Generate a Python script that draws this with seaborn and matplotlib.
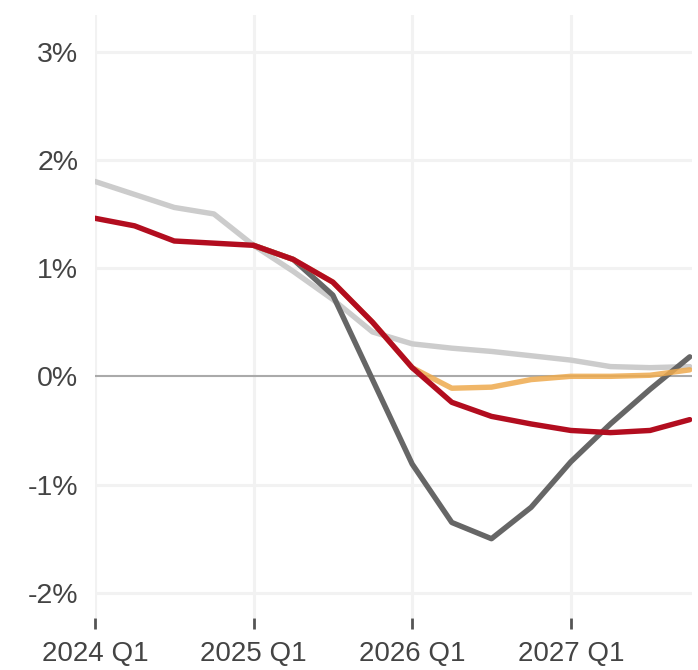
import seaborn as sns
import pandas as pd
import matplotlib.pyplot as plt
from matplotlib.ticker import FuncFormatter

# quarters 2024 Q1 .. 2027 Q4
quarters = ["2024 Q1", "2024 Q2", "2024 Q3", "2024 Q4",
            "2025 Q1", "2025 Q2", "2025 Q3", "2025 Q4",
            "2026 Q1", "2026 Q2", "2026 Q3", "2026 Q4",
            "2027 Q1", "2027 Q2", "2027 Q3", "2027 Q4"]

light_grey = [1.80, 1.68, 1.56, 1.50, 1.21, 0.97, 0.71, 0.41,
              0.30, 0.26, 0.23, 0.19, 0.15, 0.09, 0.08, 0.09]
dark_grey = [None, None, None, None, 1.21, 1.08, 0.75, -0.03,
             -0.81, -1.35, -1.50, -1.21, -0.79, -0.44, -0.12, 0.18]
orange = [None, None, None, None, 1.21, 1.08, 0.87, 0.50,
          0.08, -0.11, -0.10, -0.03, 0.00, 0.00, 0.01, 0.06]
red = [1.46, 1.39, 1.25, 1.23, 1.21, 1.08, 0.87, 0.50,
       0.08, -0.24, -0.37, -0.44, -0.50, -0.52, -0.50, -0.40]

year_ticks = ["2024 Q1", "2025 Q1", "2026 Q1", "2027 Q1"]

df = pd.DataFrame({"q": range(len(quarters)), "light": light_grey,
                   "dark": dark_grey, "orange": orange, "red": red})

sns.set_style("white")
plt.rcParams['font.family'] = ['Liberation Sans', 'DejaVu Sans']

fig = plt.figure(figsize=(6.98, 6.70), dpi=100)
ax = fig.add_axes([0.136, 0.078, 0.855, 0.900])

for q in [0, 4, 8, 12]:
    ax.axvline(q, color="#f2f2f2", lw=2.2, zorder=0)
for v in [-2, -1, 1, 2, 3]:
    ax.axhline(v, color="#f2f2f2", lw=2.2, zorder=0)
ax.axhline(0, color="#aaaaaa", lw=1.5, zorder=1)

lw = 3.9
sns.lineplot(data=df, x="q", y="light", color="#cccccc", lw=lw, ax=ax, zorder=2)
sns.lineplot(data=df.dropna(), x="q", y="dark", color="#666666", lw=lw, ax=ax, zorder=3)
sns.lineplot(data=df.dropna(), x="q", y="orange", color="#eeaa4e", alpha=0.85, lw=lw, ax=ax, zorder=4)
sns.lineplot(data=df, x="q", y="red", color="#b20d1f", lw=lw, ax=ax, zorder=5)

ax.set_xlim(0, 15.05)
ax.set_ylim(-2.23, 3.34)
ax.set_xticks([quarters.index(t) for t in year_ticks])
ax.set_xticklabels(year_ticks)
ax.set_yticks([-2, -1, 0, 1, 2, 3])
ax.yaxis.set_major_formatter(FuncFormatter(lambda v, p: f"{v:.0f}%"))
ax.set_xlabel("")
ax.set_ylabel("")

for s in ax.spines.values():
    s.set_visible(False)
ax.tick_params(axis="x", direction="out", length=8, width=2, color="#555555",
               pad=9, labelsize=20, labelcolor="#444444", bottom=True)
ax.tick_params(axis="y", length=0, pad=12, labelsize=20.5, labelcolor="#444444")

fig.savefig("out.png", dpi=100)
